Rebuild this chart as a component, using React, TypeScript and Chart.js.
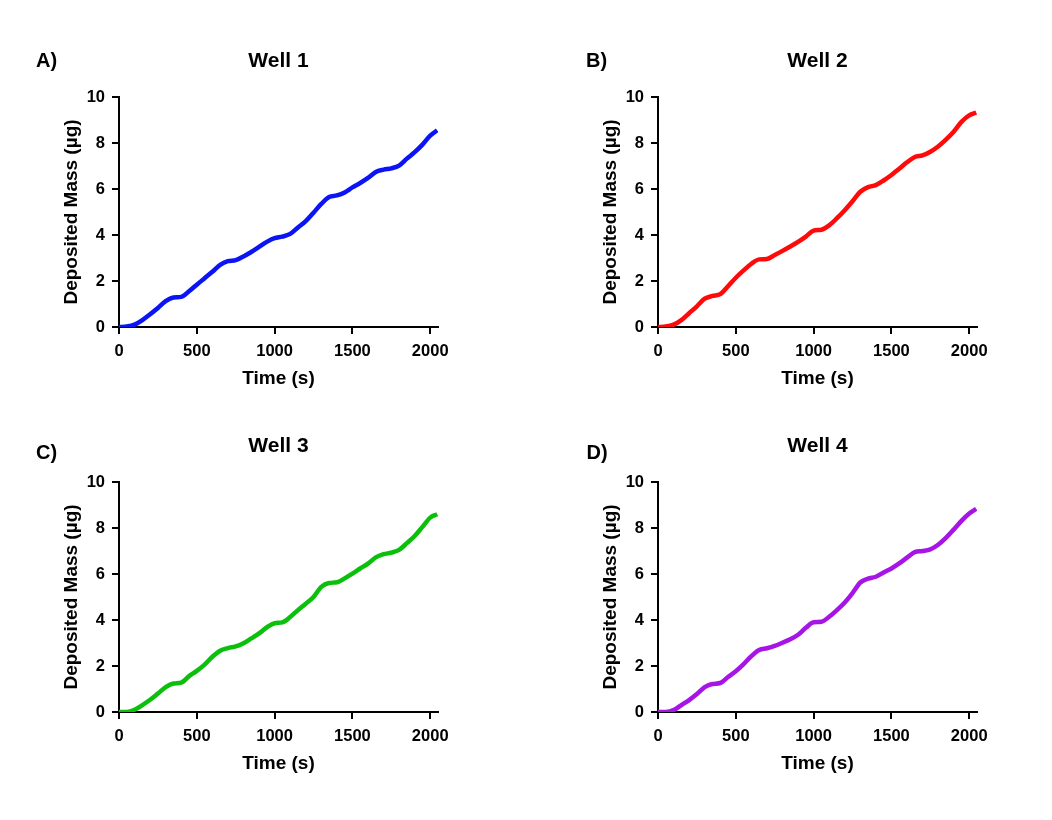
import React, { useEffect, useRef } from "react";
import { Chart, registerables } from "chart.js";

Chart.register(...registerables);

// ---- data ----
const timeSeconds = [
  0, 50, 100, 150, 200, 250, 300, 350, 400, 450, 500, 550, 600, 650, 700, 750, 800, 850, 900, 950,
  1000, 1050, 1100, 1150, 1200, 1250, 1300, 1350, 1400, 1450, 1500, 1550, 1600, 1650, 1700, 1750,
  1800, 1850, 1900, 1950, 2000, 2045,
];
const well1Mass = [
  0, 0.02, 0.1, 0.3, 0.55, 0.83, 1.12, 1.28, 1.31, 1.55, 1.84, 2.12, 2.4, 2.7, 2.86, 2.91, 3.07, 3.26,
  3.48, 3.7, 3.86, 3.93, 4.05, 4.33, 4.6, 4.97, 5.35, 5.65, 5.72, 5.85, 6.07, 6.26, 6.48, 6.74, 6.84,
  6.9, 7.02, 7.32, 7.6, 7.93, 8.32, 8.55,
];
const well2Mass = [
  0, 0.02, 0.1, 0.3, 0.6, 0.9, 1.23, 1.35, 1.43, 1.77, 2.14, 2.46, 2.75, 2.94, 2.96, 3.13, 3.31, 3.5,
  3.7, 3.93, 4.19, 4.23, 4.42, 4.73, 5.08, 5.47, 5.88, 6.08, 6.17, 6.37, 6.61, 6.88, 7.16, 7.39, 7.46,
  7.62, 7.85, 8.15, 8.49, 8.92, 9.2, 9.32,
];
const well3Mass = [
  0, 0, 0.1, 0.3, 0.53, 0.8, 1.08, 1.24, 1.28, 1.56, 1.79, 2.06, 2.4, 2.66, 2.78, 2.85, 2.99, 3.2,
  3.42, 3.68, 3.86, 3.9, 4.13, 4.43, 4.71, 5.0, 5.44, 5.61, 5.64, 5.81, 6.02, 6.24, 6.45, 6.72, 6.86,
  6.93, 7.05, 7.34, 7.65, 8.05, 8.45, 8.6,
];
const well4Mass = [
  0, 0, 0.08, 0.3, 0.52, 0.78, 1.08, 1.22, 1.26, 1.52, 1.77, 2.08, 2.43, 2.7, 2.77, 2.87, 3.01, 3.16,
  3.36, 3.66, 3.9, 3.92, 4.14, 4.43, 4.76, 5.17, 5.63, 5.8, 5.88, 6.07, 6.24, 6.46, 6.71, 6.95, 7.0,
  7.07, 7.27, 7.57, 7.93, 8.31, 8.63, 8.83,
];
const xTickValues = [0, 500, 1000, 1500, 2000];
const yTickValues = [0, 2, 4, 6, 8, 10];
const panelLetters = ["A)", "B)", "C)", "D)"];
const panelTitles = ["Well 1", "Well 2", "Well 3", "Well 4"];
const xAxisTitle = "Time (s)";
const yAxisTitle = "Deposited Mass (\u00b5g)";

// ---- styling / layout ----
const FONT = '"Liberation Sans", Arial, Helvetica, sans-serif';
const CANVAS_W = 513;
const CANVAS_H = 410;

type Panel = {
  letter: string;
  title: string;
  values: number[];
  color: string;
  left: number;
  top: number;
  letterX: number;
  letterBase: number;
  titleBase: number;
};

const panels: Panel[] = [
  { letter: panelLetters[0], title: panelTitles[0], values: well1Mass, color: "#0a14f5", left: 0, top: 0, letterX: 36, letterBase: 66.7, titleBase: 66.5 },
  { letter: panelLetters[1], title: panelTitles[1], values: well2Mass, color: "#ff0a0a", left: 539, top: 0, letterX: 47, letterBase: 66.7, titleBase: 66.7 },
  { letter: panelLetters[2], title: panelTitles[2], values: well3Mass, color: "#0ac00a", left: 0, top: 385, letterX: 36, letterBase: 74, titleBase: 67.3 },
  { letter: panelLetters[3], title: panelTitles[3], values: well4Mass, color: "#a614e6", left: 539, top: 385, letterX: 47.5, letterBase: 74, titleBase: 66.7 },
];

function PanelChart({ panel }: { panel: Panel }) {
  const ref = useRef<HTMLCanvasElement | null>(null);
  useEffect(() => {
    if (!ref.current) return;
    const textPlugin = {
      id: "panelText",
      afterDraw(chart: any) {
        const { ctx, chartArea } = chart;
        ctx.save();
        ctx.fillStyle = "#000";
        ctx.textBaseline = "alphabetic";
        ctx.font = `bold 21px ${FONT}`;
        ctx.textAlign = "center";
        ctx.fillText(panel.title, (chartArea.left + chartArea.right) / 2, panel.titleBase);
        ctx.font = `bold 20px ${FONT}`;
        ctx.textAlign = "left";
        ctx.fillText(panel.letter, panel.letterX, panel.letterBase);
        ctx.restore();
      },
    };
    const chart = new Chart(ref.current, {
      type: "line",
      data: {
        datasets: [
          {
            data: timeSeconds.map((t, i) => ({ x: t, y: panel.values[i] })),
            borderColor: panel.color,
            backgroundColor: panel.color,
            borderWidth: 4.5,
            pointRadius: 0,
            cubicInterpolationMode: "monotone",
            fill: false,
          },
        ],
      },
      options: {
        animation: false,
        responsive: false,
        events: [],
        layout: { padding: { left: 60, right: CANVAS_W - 438, top: 97, bottom: 20 } },
        plugins: {
          legend: { display: false },
          title: { display: false },
          tooltip: { enabled: false },
        },
        scales: {
          x: {
            type: "linear",
            min: 0,
            max: 2050,
            afterFit: (s: any) => {
              s.height = 63;
            },
            afterBuildTicks: (s: any) => {
              s.ticks = xTickValues.map((v) => ({ value: v }));
            },
            grid: { drawOnChartArea: false, drawTicks: true, tickLength: 7, lineWidth: 2, color: "#000" },
            border: { display: true, width: 2, color: "#000" },
            ticks: {
              color: "#000",
              padding: 8,
              maxRotation: 0,
              autoSkip: false,
              callback: (v: any) => String(v),
              font: { family: FONT, size: 16.5, weight: "bold" },
            },
            title: {
              display: true,
              text: xAxisTitle,
              color: "#000",
              padding: { top: 0, bottom: 0 },
              font: { family: FONT, size: 19, weight: "bold" },
            },
          },
          y: {
            type: "linear",
            min: 0,
            max: 10,
            afterFit: (s: any) => {
              s.width = 59;
            },
            afterBuildTicks: (s: any) => {
              s.ticks = yTickValues.map((v) => ({ value: v }));
            },
            grid: { drawOnChartArea: false, drawTicks: true, tickLength: 7, lineWidth: 2, color: "#000" },
            border: { display: true, width: 2, color: "#000" },
            ticks: {
              color: "#000",
              padding: 7,
              autoSkip: false,
              callback: (v: any) => String(v),
              font: { family: FONT, size: 16.5, weight: "bold" },
            },
            title: {
              display: true,
              text: yAxisTitle,
              color: "#000",
              padding: { top: 0, bottom: 0 },
              font: { family: FONT, size: 19, weight: "bold" },
            },
          },
        },
      } as any,
      plugins: [textPlugin],
    });
    return () => chart.destroy();
  }, [panel]);

  return (
    <canvas
      ref={ref}
      width={CANVAS_W}
      height={CANVAS_H}
      style={{ position: "absolute", left: panel.left, top: panel.top, width: CANVAS_W, height: CANVAS_H }}
    />
  );
}

export default function App() {
  return (
    <div style={{ position: "absolute", left: 0, top: 0, width: 1052, height: 820, background: "#fff", overflow: "hidden" }}>
      {panels.map((p) => (
        <PanelChart key={p.title} panel={p} />
      ))}
    </div>
  );
}
